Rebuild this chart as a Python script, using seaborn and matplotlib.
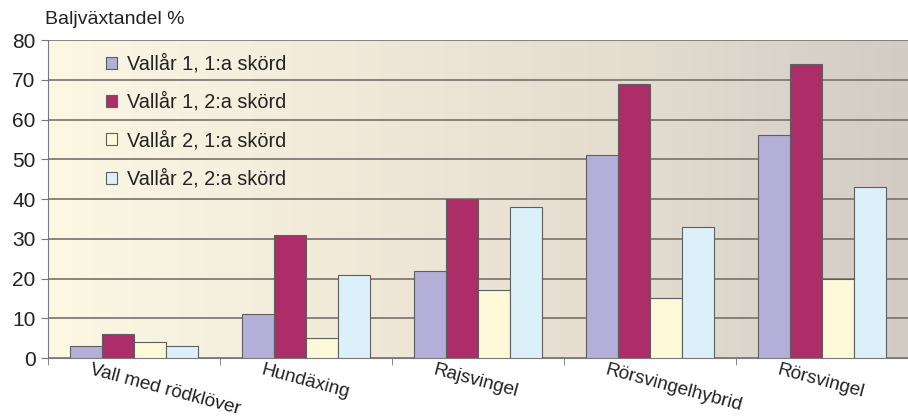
import numpy as np
import pandas as pd
import matplotlib.pyplot as plt
import matplotlib.transforms as mtransforms
import seaborn as sns
from matplotlib.colors import LinearSegmentedColormap

# data
categories = ['Vall med rödklöver', 'Hundäxing', 'Rajsvingel', 'Rörsvingelhybrid', 'Rörsvingel']
series = ['Vallår 1, 1:a skörd', 'Vallår 1, 2:a skörd', 'Vallår 2, 1:a skörd', 'Vallår 2, 2:a skörd']
v1_s1 = [3, 11, 22, 51, 56]
v1_s2 = [6, 31, 40, 69, 74]
v2_s1 = [4, 5, 17, 15, 20]
v2_s2 = [3, 21, 38, 33, 43]

colors = ['#b3afd9', '#ad2d68', '#fdf8d8', '#dcf0f9']

df = pd.DataFrame({
    'kategori': categories * 4,
    'serie': np.repeat(series, len(categories)),
    'varde': v1_s1 + v1_s2 + v2_s1 + v2_s2,
})

sns.set_style('white')
plt.rcParams['font.family'] = ['Liberation Sans', 'DejaVu Sans']

fig = plt.figure(figsize=(9.08, 4.18), dpi=100)
ax = fig.add_axes([0.053, 0.1435, 0.947, 0.7608])

# background gradient, cream on the left to greyish beige on the right
grad = LinearSegmentedColormap.from_list('bg', ['#fcf8e4', '#f1ead9', '#e4ddd0', '#d3ccc5'])
ax.imshow(np.linspace(0, 1, 256).reshape(1, -1), cmap=grad, aspect='auto',
          extent=[0, 1, 0, 1], transform=ax.transAxes, zorder=0)

sns.barplot(data=df, x='kategori', y='varde', hue='serie', palette=colors, saturation=1,
            width=0.74, edgecolor='#5e5e5e', linewidth=0.8, ax=ax, zorder=3)

# the last category runs a little past the right edge in the reference
ax.set_xlim(-0.5, 4.457)
ax.set_ylim(0, 80)
ax.set_yticks(range(0, 81, 10))
ax.yaxis.grid(True, color='#77716b', linewidth=1.2)
ax.set_axisbelow(False)
for line in ax.get_ygridlines():
    line.set_zorder(1)

for s in ['top', 'right']:
    ax.spines[s].set_visible(False)
ax.spines['left'].set_color('#7a7a7a')
ax.spines['bottom'].set_color('#7a7a7a')

# category labels: slanted, starting a bit left of each category centre
ax.set_xticks(np.arange(len(categories)))
ax.set_xticklabels([''] * len(categories))
ax.tick_params(axis='x', length=0)
base = mtransforms.blended_transform_factory(ax.transData, ax.transAxes)
shift = mtransforms.ScaledTranslation(-0.42, -0.035, fig.dpi_scale_trans)
for i, name in enumerate(categories):
    ax.text(i, 0, name, transform=base + shift, rotation=-15, ha='left', va='top',
            rotation_mode='anchor', fontsize=13.7, color='#222222', clip_on=False)

ax.set_xticks(np.arange(-0.5, len(categories), 1), minor=True)
ax.tick_params(axis='x', which='minor', length=5, color='#777777', direction='out', bottom=True)
ax.tick_params(axis='y', length=5, color='#777777', direction='out', left=True,
               labelsize=15, labelcolor='#222222', pad=4)
ax.set_xlabel('')
ax.set_ylabel('')

fig.text(45 / 908, 1 - 19 / 418, 'Baljväxtandel %', fontsize=14, ha='left', va='center',
         color='#222222')

leg = ax.legend(loc='upper left', bbox_to_anchor=(0.0674, 0.956), frameon=False, fontsize=14.3,
                handlelength=0.55, handleheight=0.55, labelspacing=0.95, handletextpad=0.5,
                borderpad=0, borderaxespad=0)
for t in leg.get_texts():
    t.set_color('#222222')

fig.savefig('out.png', dpi=100)
